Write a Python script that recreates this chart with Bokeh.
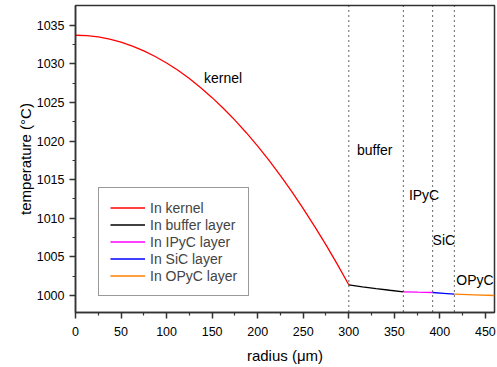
from bokeh.plotting import figure
from bokeh.models import Range1d, FixedTicker, Span, Legend, LegendItem
from bokeh.core.properties import value
from bokeh.embed import file_html
from bokeh.resources import INLINE

# ---- data ----
kernel_r = [0, 12.5, 25, 37.5, 50, 62.5, 75, 87.5, 100, 112.5, 125, 137.5, 150,
            162.5, 175, 187.5, 200, 212.5, 225, 237.5, 250, 262.5, 275, 287.5, 300]
kernel_T = [1033.7, 1033.64, 1033.48, 1033.2, 1032.8, 1032.3, 1031.68, 1030.95,
            1030.11, 1029.16, 1028.09, 1026.91, 1025.62, 1024.22, 1022.71, 1021.08,
            1019.34, 1017.49, 1015.53, 1013.45, 1011.26, 1008.96, 1006.55, 1004.03,
            1001.39]
buffer_r = [300, 315, 330, 345, 360]
buffer_T = [1001.39, 1001.13, 1000.9, 1000.68, 1000.48]
ipyc_r = [360, 376, 392]
ipyc_T = [1000.48, 1000.43, 1000.39]
sic_r = [392, 404, 416]
sic_T = [1000.39, 1000.28, 1000.17]
opyc_r = [416, 438, 460]
opyc_T = [1000.17, 1000.08, 1000.0]

boundaries = [300, 360, 392, 416]
region_names = ["kernel", "buffer", "IPyC", "SiC", "OPyC"]
region_x = [141, 309, 366, 392, 418]
region_y = [1028.1, 1018.8, 1013.0, 1007.2, 1002.0]

legend_labels = ["In kernel", "In buffer layer", "In IPyC layer", "In SiC layer", "In OPyC layer"]
series_colors = ["#ff0000", "#000000", "#ff00ff", "#0000ff", "#ff8000"]

x_ticks = [0, 50, 100, 150, 200, 250, 300, 350, 400, 450]
x_minor = [25, 75, 125, 175, 225, 275, 325, 375, 425]
y_ticks = [1000, 1005, 1010, 1015, 1020, 1025, 1030, 1035]
y_minor = [1002.5, 1007.5, 1012.5, 1017.5, 1022.5, 1027.5, 1032.5]

FONT = "Liberation Sans"

p = figure(width=497, height=367, output_backend="svg", toolbar_location=None,
           title=None,
           x_range=Range1d(0, 460), y_range=Range1d(997.8, 1037.55),
           min_border_left=75, min_border_right=3, min_border_top=5, min_border_bottom=55,
           background_fill_color="white", border_fill_color="white")
p.xgrid.visible = False
p.ygrid.visible = False
p.outline_line_color = "#333333"
p.outline_line_width = 1.5

p.xaxis.ticker = FixedTicker(ticks=x_ticks, minor_ticks=x_minor)
p.yaxis.ticker = FixedTicker(ticks=y_ticks, minor_ticks=y_minor)
p.xaxis.axis_label = "radius (\u03bcm)"
p.yaxis.axis_label = "temperature (\u00b0C)"
for ax in (p.xaxis, p.yaxis):
    ax.axis_line_color = "#333333"
    ax.axis_line_width = 1.5
    ax.major_tick_line_color = "#333333"
    ax.minor_tick_line_color = "#333333"
    ax.major_tick_line_width = 1.5
    ax.minor_tick_line_width = 1.2
    ax.major_tick_in = 0
    ax.major_tick_out = 6
    ax.minor_tick_in = 0
    ax.minor_tick_out = 3
    ax.major_label_text_font = FONT
    ax.major_label_text_font_size = "12.5px"
    ax.major_label_text_color = "black"
    ax.axis_label_text_font = FONT
    ax.axis_label_text_font_size = "15px"
    ax.axis_label_text_font_style = "normal"
    ax.axis_label_text_color = "black"
p.xaxis.major_label_standoff = 8
p.xaxis.axis_label_standoff = 8
p.yaxis.major_label_standoff = 5
p.yaxis.axis_label_standoff = 0

for b in boundaries:
    p.add_layout(Span(location=b, dimension="height", line_color="black",
                      line_dash="1 4", line_width=1.2))

rs = []
for (xs, ys), c in zip([(kernel_r, kernel_T), (buffer_r, buffer_T), (ipyc_r, ipyc_T),
                        (sic_r, sic_T), (opyc_r, opyc_T)], series_colors):
    rs.append(p.line(xs, ys, line_color=c, line_width=1.3))

p.text(x=region_x, y=region_y, text=region_names, text_font=value(FONT),
       text_font_size="14px", text_baseline="middle", text_align="left",
       text_color="black")

legend = Legend(items=[LegendItem(label=l, renderers=[r]) for l, r in zip(legend_labels, rs)],
                location=(23, 16), label_text_font=FONT, label_text_font_size="14px",
                glyph_width=35, glyph_height=17, label_height=17, label_standoff=5,
                spacing=0, padding=11, border_line_color="#333333", border_line_width=1,
                background_fill_color="white", background_fill_alpha=1.0)
p.add_layout(legend)

open("out.html", "w").write(file_html(p, INLINE))
